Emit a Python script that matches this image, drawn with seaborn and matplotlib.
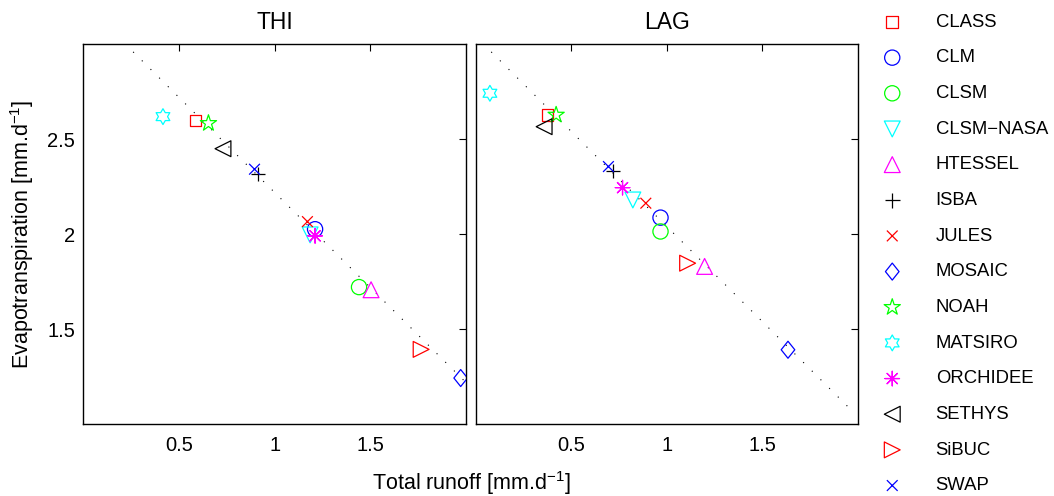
import numpy as np
import pandas as pd
import matplotlib
matplotlib.use("Agg")
import matplotlib.pyplot as plt
import seaborn as sns
from matplotlib.markers import MarkerStyle
from matplotlib.path import Path

# ---------------- data ----------------
models = ["CLASS", "CLM", "CLSM", "CLSM\u2212NASA", "HTESSEL", "ISBA", "JULES",
          "MOSAIC", "NOAH", "MATSIRO", "ORCHIDEE", "SETHYS", "SiBUC", "SWAP"]
thi_runoff = [0.587, 1.212, 1.442, 1.186, 1.505, 0.913, 1.172, 1.974, 0.654, 0.416, 1.212, 0.730, 1.767, 0.895]
thi_et     = [2.598, 2.026, 1.721, 1.996, 1.707, 2.317, 2.066, 1.242, 2.584, 2.619, 1.991, 2.450, 1.393, 2.342]
lag_runoff = [0.374, 0.967, 0.967, 0.822, 1.198, 0.717, 0.890, 1.635, 0.420, 0.073, 0.768, 0.357, 1.109, 0.694]
lag_et     = [2.628, 2.087, 2.014, 2.180, 1.830, 2.333, 2.163, 1.391, 2.628, 2.742, 2.245, 2.566, 1.847, 2.356]
regions = ["THI", "LAG"]
# dotted reference line: runoff + ET = total water
water_total = [3.22, 3.04]
line_runoff_start = [0.26, 0.08]
line_runoff_end = [2.00, 1.97]
x_ticks = [0.5, 1, 1.5]
y_ticks = [1.5, 2, 2.5]

# ---------------- styles ----------------
k12 = np.arange(12)
ang = np.deg2rad(90 + 30 * k12)
rad = np.where(k12 % 2 == 0, 1.0, 1 / np.sqrt(3))
hx = list(zip(rad * np.cos(ang), rad * np.sin(ang)))
hexagram = Path(hx + [hx[0]], closed=True)
dm = [(0, 1), (0.8, 0), (0, -1), (-0.8, 0)]
diamond = Path(dm + [dm[0]], closed=True)

red, blue, green, cyan, mag, blk = "#ff0000", "#0000ff", "#00ff00", "#00ffff", "#ff00ff", "#000000"
styles = {
    "CLASS": ("s", red, 70),
    "CLM": ("o", blue, 120),
    "CLSM": ("o", green, 120),
    "CLSM\u2212NASA": ("v", cyan, 130),
    "HTESSEL": ("^", mag, 130),
    "ISBA": ("+", blk, 110),
    "JULES": ("x", red, 60),
    "MOSAIC": (diamond, blue, 150),
    "NOAH": ("*", green, 150),
    "MATSIRO": (hexagram, cyan, 130),
    "ORCHIDEE": ((8, 2, 0), mag, 110),
    "SETHYS": ("<", blk, 130),
    "SiBUC": (">", red, 130),
    "SWAP": ("x", blue, 60),
}

sns.set_style("white")
plt.rcParams["font.family"] = ["Liberation Sans", "DejaVu Sans"]
plt.rcParams["mathtext.fontset"] = "custom"
plt.rcParams["mathtext.rm"] = "Liberation Sans"
plt.rcParams["mathtext.it"] = "Liberation Sans"
for key in ["text.color", "axes.labelcolor", "xtick.color", "ytick.color", "axes.edgecolor"]:
    plt.rcParams[key] = "k"

fig = plt.figure(figsize=(10.54, 4.96), dpi=100)
ax1 = fig.add_axes([0.0792, 0.1452, 0.3626, 0.7655])
ax2 = fig.add_axes([0.4516, 0.1452, 0.3621, 0.7655])

panels = [(ax1, thi_runoff, thi_et), (ax2, lag_runoff, lag_et)]
for i, (ax, xr, ye) in enumerate(panels):
    df = pd.DataFrame({"model": models, "runoff": xr, "et": ye})
    lx = np.array([line_runoff_start[i], line_runoff_end[i]])
    sns.lineplot(x=lx, y=water_total[i] - lx, ax=ax, color="k",
                 linestyle=(0, (1, 10)), linewidth=0.8, zorder=1)
    for _, row in df.iterrows():
        m, c, s = styles[row["model"]]
        sns.scatterplot(x=[row["runoff"]], y=[row["et"]], ax=ax,
                        marker=MarkerStyle(m, fillstyle="none"), color=c,
                        s=s, linewidth=0.9, label=row["model"], legend=False, zorder=3)
    ax.set_xlim(0, 2)
    ax.set_ylim(1, 3)
    ax.set_xticks(x_ticks)
    ax.set_xticklabels(["0.5", "1", "1.5"])
    ax.set_yticks(y_ticks)
    ax.set_yticklabels(["1.5", "2", "2.5"] if i == 0 else [])
    ax.tick_params(direction="in", top=True, right=True, length=5, width=0.8,
                   labelsize=14.5, pad=6, colors="k")
    ax.tick_params(axis="x", pad=9)
    ax.set_title(regions[i], fontsize=16.5, pad=11, color="k")
    ax.set_xlabel("")
    ax.set_ylabel("")
    for sp in ax.spines.values():
        sp.set_linewidth(1.0)
        sp.set_color("k")
    if ax.get_legend() is not None:
        ax.get_legend().remove()

ax1.set_ylabel(r"Evapotranspiration [mm.d$^{-1}$]", fontsize=15.5, labelpad=8)
fig.text(0.447, 0.026, r"Total runoff [mm.d$^{-1}$]", fontsize=15.5, ha="center", va="center")

handles, labels = ax1.get_legend_handles_labels()
fig.legend(handles, labels, loc="upper left", bbox_to_anchor=(0.822, 0.987),
           frameon=False, fontsize=13.3, labelspacing=1.01, handletextpad=1.35,
           scatterpoints=1, borderaxespad=0)

fig.savefig("out.png", dpi=100)
